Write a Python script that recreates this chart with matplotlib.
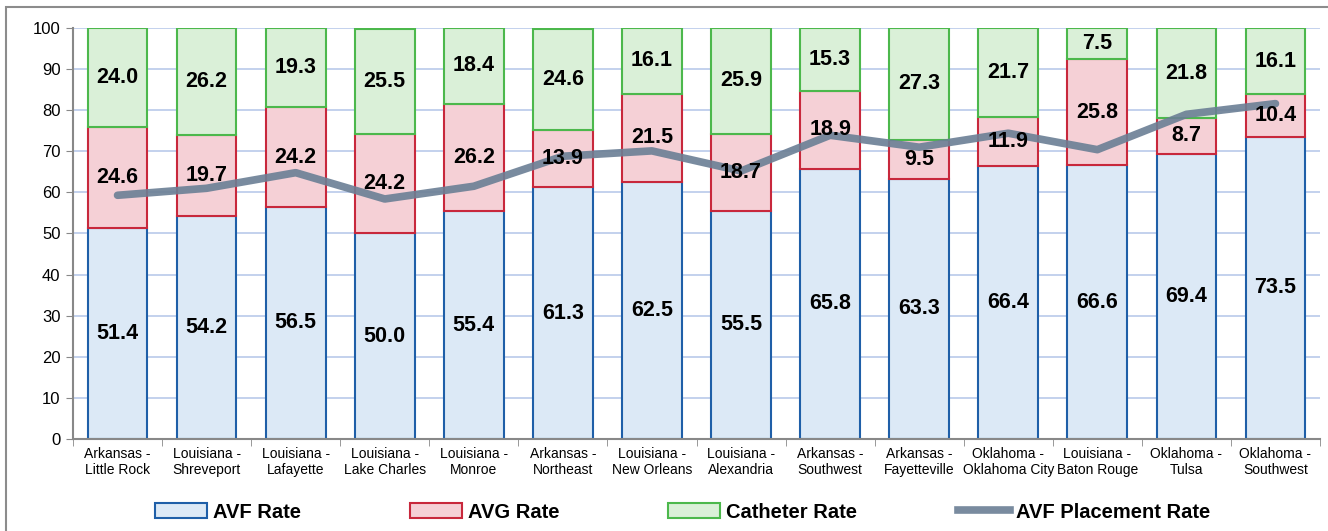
import matplotlib
matplotlib.use("Agg")
import matplotlib.pyplot as plt
from matplotlib import font_manager
from matplotlib.patches import Patch, Rectangle
from matplotlib.lines import Line2D
import numpy as np

centers = ["Arkansas -\nLittle Rock", "Louisiana -\nShreveport", "Louisiana -\nLafayette",
           "Louisiana -\nLake Charles", "Louisiana -\nMonroe", "Arkansas -\nNortheast",
           "Louisiana -\nNew Orleans", "Louisiana -\nAlexandria", "Arkansas -\nSouthwest",
           "Arkansas -\nFayetteville", "Oklahoma -\nOklahoma City", "Louisiana -\nBaton Rouge",
           "Oklahoma -\nTulsa", "Oklahoma -\nSouthwest"]
avf = [51.4, 54.2, 56.5, 50.0, 55.4, 61.3, 62.5, 55.5, 65.8, 63.3, 66.4, 66.6, 69.4, 73.5]
avg = [24.6, 19.7, 24.2, 24.2, 26.2, 13.9, 21.5, 18.7, 18.9, 9.5, 11.9, 25.8, 8.7, 10.4]
catheter = [24.0, 26.2, 19.3, 25.5, 18.4, 24.6, 16.1, 25.9, 15.3, 27.3, 21.7, 7.5, 21.8, 16.1]
placement = [59.3, 61.0, 64.8, 58.4, 61.5, 68.8, 70.1, 65.2, 73.9, 71.0, 74.4, 70.4, 79.0, 81.6]

names = {f.name for f in font_manager.fontManager.ttflist}
base = "Liberation Sans" if "Liberation Sans" in names else "DejaVu Sans"
narrow = "Liberation Sans Narrow" if "Liberation Sans Narrow" in names else base
plt.rcParams['font.family'] = [base, 'DejaVu Sans']

fig = plt.figure(figsize=(13.28, 5.31), dpi=100)
fig.set_facecolor('white')
fig.patches.append(Rectangle((6 / 1328, -0.1), 1.2, 1.1 - 7 / 531, transform=fig.transFigure,
                             fill=False, edgecolor='#8c8c8c', linewidth=1.5))
ax = fig.add_axes([73 / 1328, 1 - 439 / 531, 1247 / 1328, 411 / 531])

x = np.arange(len(centers))
w = 0.67
avf_c = ('#dce9f6', '#1f5fa8')
avg_c = ('#f5d0d6', '#c8283c')
cat_c = ('#daf0d8', '#4cb84c')
line_c = '#6b7f95'

avf_a = np.array(avf)
avg_a = np.array(avg)
cat_a = np.array(catheter)
ax.bar(x, avf_a, w, color=avf_c[0], edgecolor=avf_c[1], linewidth=1.5, zorder=2)
ax.bar(x, avg_a, w, bottom=avf_a, color=avg_c[0], edgecolor=avg_c[1], linewidth=1.5, zorder=2)
ax.bar(x, cat_a, w, bottom=avf_a + avg_a, color=cat_c[0], edgecolor=cat_c[1], linewidth=1.5, zorder=2)
ax.plot(x, placement, color=line_c, linewidth=5.5, alpha=0.9, solid_capstyle='round', zorder=3)

for i in range(len(x)):
    for val, bot in [(avf[i], 0), (avg[i], avf[i]), (catheter[i], avf[i] + avg[i])]:
        ax.text(x[i], bot + val / 2, f"{val:.1f}", ha='center', va='center',
                fontsize=15.5, fontweight='bold', color='black', zorder=5)

ax.set_xlim(-0.5, len(x) - 0.5)
ax.set_ylim(0, 100)
ax.set_yticks(np.arange(0, 101, 10))
ax.tick_params(axis='y', labelsize=12, length=5, color='#888888', pad=4)
ax.set_xticks(x)
ax.set_xticklabels(centers, fontsize=10, family=narrow, linespacing=1.15)
ax.tick_params(axis='x', length=0, pad=6)
ax.set_xticks(np.arange(-0.5, len(x), 1), minor=True)
ax.tick_params(axis='x', which='minor', length=5, color='#888888')
ax.grid(axis='y', color='#b9c9ea', linewidth=1.2, zorder=0)
ax.set_axisbelow(True)
for s in ['top', 'right']:
    ax.spines[s].set_visible(False)
for s in ['left', 'bottom']:
    ax.spines[s].set_color('#888888')
    ax.spines[s].set_linewidth(1.5)

entries = [
    (Patch(facecolor=avf_c[0], edgecolor=avf_c[1], linewidth=1.5), "AVF Rate", 155),
    (Patch(facecolor=avg_c[0], edgecolor=avg_c[1], linewidth=1.5), "AVG Rate", 410),
    (Patch(facecolor=cat_c[0], edgecolor=cat_c[1], linewidth=1.5), "Catheter Rate", 668),
    (Line2D([], [], color=line_c, linewidth=5.5, alpha=0.9), "AVF Placement Rate", 958),
]
for h, lab, px in entries:
    fig.legend([h], [lab], loc='center left', bbox_to_anchor=(px / 1328, 1 - 512 / 531),
               frameon=False, handlelength=2.6, handleheight=0.7, handletextpad=0.3,
               borderpad=0, borderaxespad=0,
               prop={'family': narrow, 'weight': 'bold', 'size': 14.5})

fig.savefig('out.png', dpi=100, facecolor='white')
